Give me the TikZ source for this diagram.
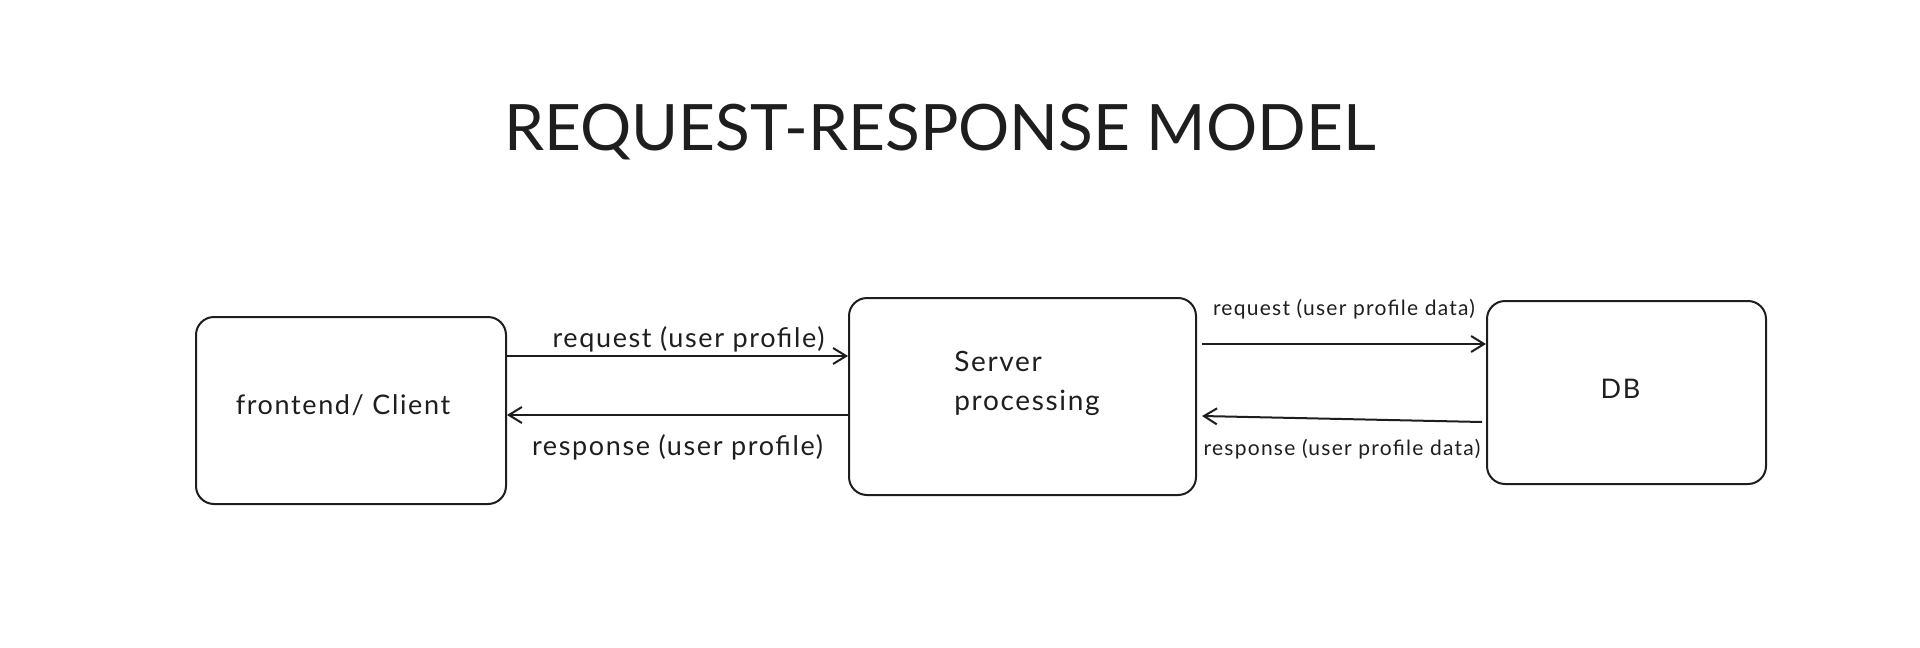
\documentclass[tikz,border=0pt]{standalone}
\usepackage{fontspec}
\setmainfont{Lato}
\newfontfamily\hand{Lato}[LetterSpace=6]
\usetikzlibrary{arrows.meta}
\definecolor{ink}{HTML}{1E1E1E}

\begin{document}
\begin{tikzpicture}[x=1pt,y=-1pt,
    box/.style={draw=ink,line width=2pt,rounded corners=18pt},
    arr/.style={draw=ink,line width=2pt,-{Straight Barb[length=13pt,width=16pt]}},
    lbl/.style={text=ink,font=\hand\fontsize{27}{32}\selectfont},
    small/.style={text=ink,font=\hand\fontsize{21}{25}\selectfont}]
    \useasboundingbox (0,0) rectangle (1920,648);
    \node[text=ink,font=\fontsize{64}{72}\selectfont,anchor=base] (title) at (940,150) {REQUEST-RESPONSE MODEL};
    \node[box,minimum width=310pt,minimum height=187pt] (client) at (351,410.5) {};
    \node[lbl] (clitext) at ([xshift=-8pt,yshift=5pt]client.center) {frontend/ Client};
    \node[box,minimum width=347pt,minimum height=197pt] (server) at (1022.5,396.5) {};
    \node[text=ink,align=left,font=\hand\fontsize{28}{39}\selectfont] (srvtext) at ([xshift=4.5pt,yshift=13pt]server.center) {Server\\processing};
    \node[box,minimum width=279pt,minimum height=183pt] (db) at (1626.5,392.5) {};
    \node[lbl] (dbtext) at ([xshift=-6pt,yshift=4pt]db.center) {DB};
    \draw[arr] ([yshift=54.5pt]client.east) -- node[lbl,above=0pt,xshift=11pt] (req1) {request (user profile)} ([yshift=40.5pt]server.west);
    \draw[arr] ([yshift=-18.5pt]server.west) -- node[lbl,below=15pt] (res1) {response (user profile)} ([yshift=-4.5pt]client.east);
    \draw[arr] ([xshift=5pt,yshift=52.5pt]server.east) -- node[small,above=21pt] (req2) {request (user profile data)} ([yshift=48.5pt]db.west);
    \draw[arr] ([xshift=-4pt,yshift=-29.5pt]db.west) -- node[small,below=16pt] (res2) {response (user profile data)} ([xshift=5pt,yshift=-19.5pt]server.east);
\end{tikzpicture}
\end{document}
